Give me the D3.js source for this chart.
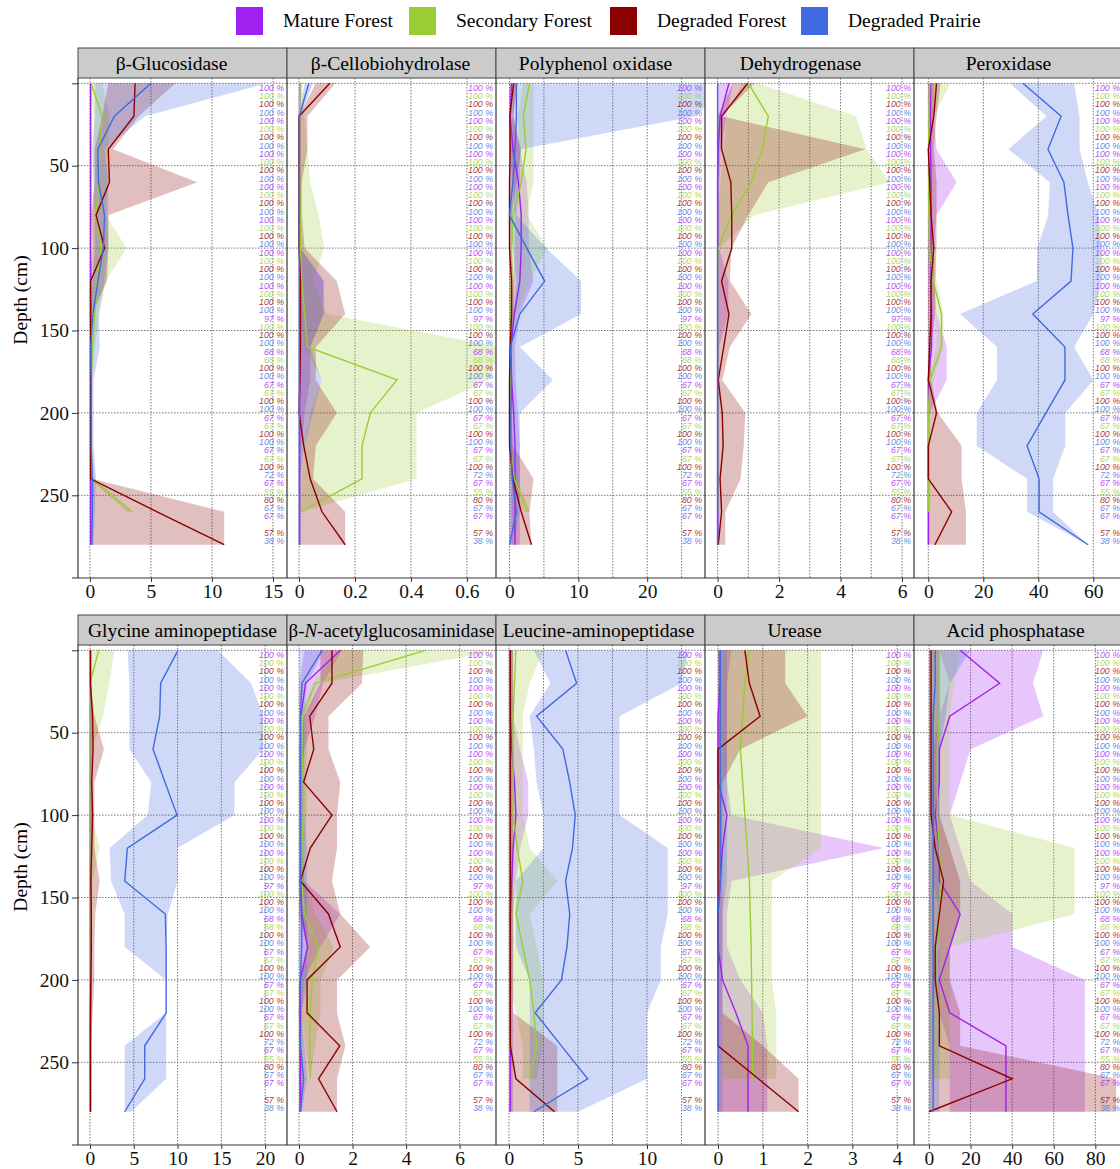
<!DOCTYPE html>
<html>
<head>
<meta charset="utf-8">
<script src="https://cdn.jsdelivr.net/npm/d3@7"></script>
<style>
  body { margin: 0; background: #fff; }
  text { font-family: "Liberation Serif", "Times New Roman", serif; }
  .pct { font-family: "Liberation Sans", Arial, sans-serif; font-style: italic; }
</style>
</head>
<body>
<script>
var svgWidth = 1120;
var svgHeight = 1169;

// DATA

var depths = [0, 20, 40, 60, 80, 100, 120, 140, 160, 180, 200, 220, 240, 260, 280];
var groups = ["Mature Forest", "Secondary Forest", "Degraded Forest", "Degraded Prairie"];
var groupColors = ["#a020f0", "#9acd32", "#8b0000", "#4169e1"];

var enzymes = ["β-Glucosidase", "β-Cellobiohydrolase", "Polyphenol oxidase", "Dehydrogenase", "Peroxidase",
  "Glycine aminopeptidase", "β-N-acetylglucosaminidase", "Leucine-aminopeptidase", "Urease", "Acid phosphatase"];

var xTickVals = [[0, 5, 10, 15], [0, 0.2, 0.4, 0.6], [0, 10, 20], [0, 2, 4, 6], [0, 20, 40, 60],
  [0, 5, 10, 15, 20], [0, 2, 4, 6], [0, 5, 10], [0, 1, 2, 3, 4], [0, 20, 40, 60, 80]];
var xGridVals = [[0, 5, 10, 15], [0, 0.2, 0.4, 0.6], [0, 5, 10, 15, 20, 25], [0, 1, 2, 3, 4, 5, 6], [0, 20, 40, 60],
  [0, 5, 10, 15, 20], [0, 2, 4, 6], [0, 2.5, 5, 7.5, 10, 12.5], [0, 1, 2, 3, 4], [0, 20, 40, 60, 80]];
var xDomains = [[-0.98, 16.15], [-0.043, 0.704], [-1.96, 28.4], [-0.41, 6.39], [-5.2, 70.8],
  [-1.37, 22.5], [-0.45, 7.36], [-0.94, 14.2], [-0.29, 4.375], [-7.2, 93.3]];

var yTickVals = [0, 50, 100, 150, 200, 250];

// share of samples, one label every 5 cm, cycling through the four groups
var pctValues = [100, 100, 100, 100, 100, 100, 100, 100, 100, 100,
  100, 100, 100, 100, 100, 100, 100, 100, 100, 100,
  100, 100, 100, 100, 100, 100, 100, 100, 97, 100,
  100, 100, 68, 68, 100, 100, 67, 67, 100, 100,
  67, 67, 100, 100, 67, 67, 100, 72, 67, 55,
  80, 67, 67, null, 57, 38];

// each array: [Mature, Secondary, Degraded Forest, Degraded Prairie] x depths
var gluMid = [
  [0.05, 0.05, 0.05, 0.05, 0.05, 0.05, 0.05, 0.05, 0.05, 0.05, 0.05, 0.05, 0.05, 0.05, 0.05],
  [0.1, 1.0, 0.8, 0.7, 0.5, 0.9, 0.6, 0.4, 0.2, 0.1, 0.05, 0.05, 0.1, 3.4, null],
  [3.7, 3.6, 1.5, 1.6, 0.5, 1.2, 0.05, 0.05, 0.05, 0.05, 0.05, 0.05, 0.05, 5.5, 11.0],
  [5.0, 2.0, 0.65, 0.7, 1.2, 1.1, 0.65, 0.25, 0.05, 0.1, 0.1, 0.1, 0.2, 0.2, 0.15]];
var gluLo = [
  [0, 0, 0, 0, 0, 0, 0, 0, 0, 0, 0, 0, 0, 0, 0],
  [0, 0.3, 0.3, 0.3, 0.2, 0.3, 0.2, 0.1, 0, 0, 0, 0, 0, 3.0, null],
  [1.5, 1.0, 0.4, 0.4, 0.1, 0.2, 0, 0, 0, 0, 0, 0, 0, 0, 0],
  [0.4, 0.4, 0.2, 0.3, 0.4, 0.4, 0.2, 0, 0, 0, 0, 0, 0, 0, 0]];
var gluHi = [
  [0.15, 0.15, 0.15, 0.15, 0.15, 0.15, 0.15, 0.15, 0.15, 0.15, 0.15, 0.15, 0.15, 0.15, 0.15],
  [1.0, 1.6, 1.5, 1.5, 1.3, 3.0, 1.3, 0.8, 0.4, 0.2, 0.2, 0.2, 0.4, 3.6, null],
  [7.0, 4.0, 1.9, 8.8, 1.5, 1.5, 1.4, 0.15, 0.15, 0.15, 0.15, 0.15, 0.15, 11, 11],
  [14.5, 4.5, 1.2, 1.5, 1.5, 1.5, 1.2, 0.7, 0.8, 0.3, 0.3, 0.3, 0.5, 0.4, 0.3]];

var cbhMid = [
  [0.002, 0.002, 0.002, 0.002, 0.002, 0.002, 0.002, 0.002, 0.002, 0.002, 0.002, 0.002, 0.002, 0.002, 0.002],
  [0.003, 0.002, 0.002, 0.003, 0.004, 0.005, 0.01, 0.02, 0.03, 0.35, 0.255, 0.225, 0.225, 0.005, null],
  [0.11, 0, 0, 0, 0, 0, 0.005, 0.005, 0.005, 0.003, 0, 0.017, 0.04, 0.082, 0.165],
  [0.035, 0.001, 0.001, 0.001, 0.001, 0.001, 0.001, 0.001, 0.001, 0.001, 0.001, 0.001, 0.001, 0.001, 0.001]];
var cbhLo = [
  [0, 0, 0, 0, 0, 0, 0, 0, 0, 0, 0, 0, 0, 0, 0],
  [0, 0, 0, 0, 0, 0, 0, 0, 0.02, 0.08, 0.04, 0.02, 0.01, 0, null],
  [0.06, 0, 0, 0, 0, 0, 0, 0, 0, 0, 0, 0, 0, 0, 0],
  [0.02, 0, 0, 0, 0, 0, 0, 0, 0, 0, 0, 0, 0, 0, 0]];
var cbhHi = [
  [0.01, 0.005, 0.005, 0.005, 0.005, 0.005, 0.088, 0.088, 0.04, 0.04, 0.02, 0.01, 0.005, 0.005, 0.005],
  [0.01, 0.02, 0.03, 0.04, 0.07, 0.09, 0.05, 0.1, 0.72, 0.68, 0.42, 0.42, 0.42, 0.01, null],
  [0.13, 0.03, 0.03, 0.01, 0.01, 0.02, 0.135, 0.165, 0.06, 0.06, 0.135, 0.06, 0.05, 0.165, 0.165],
  [0.05, 0.005, 0.005, 0.005, 0.005, 0.005, 0.088, 0.088, 0.04, 0.08, 0.05, 0.02, 0.005, 0.005, 0.005]];

var ppoMid = [
  [0.3, 0.1, 0.5, 1.3, 1.7, 1.7, 1.5, 0.7, 0.2, 0.3, 0.6, 0.8, 0.8, 0.8, 0.8],
  [2.9, 2.0, 2.4, 1.7, 0.5, 0.3, 0.3, 0.2, 0.1, 0.05, 0.05, 0.1, 0.7, 2.7, null],
  [0.6, 0.05, 0.1, 0, 0, 0, 0.3, 0.3, 0.1, 0, 0, 0, 0.5, 1.7, 3.2],
  [1.0, 1.0, 0.8, 0.5, 0.0, 2.5, 5.1, 1.5, 0.1, 0.3, 0.2, 0.2, 0.4, 1.0, 0.0]];
var ppoLo = [
  [0, 0, 0, 0.5, 0.8, 0.8, 0.5, 0.2, 0, 0, 0.2, 0.3, 0.3, 0.3, 0.3],
  [2.0, 1.2, 1.5, 0.8, 0.1, 0, 0, 0, 0, 0, 0, 0, 0, 2.0, null],
  [0, 0, 0, 0, 0, 0, 0, 0, 0, 0, 0, 0, 0, 0, 0],
  [0.5, 0.5, 0.2, 0, 0, 0.5, 1.0, 0.5, 0, 0, 0, 0, 0, 0, 0]];
var ppoHi = [
  [0.8, 0.6, 1.5, 2.5, 2.8, 2.8, 3.5, 1.5, 0.8, 0.9, 1.2, 1.5, 1.5, 1.5, 1.5],
  [3.5, 3.5, 3.5, 3.5, 2.5, 5.5, 3.0, 1.0, 0.5, 0.3, 0.3, 0.5, 1.0, 3.0, null],
  [1.2, 0.5, 1.7, 1.0, 0.3, 0.3, 0.6, 0.6, 0.3, 0.2, 0.2, 0.5, 3.5, 2.9, 3.2],
  [32, 27, 1.6, 1.5, 1.0, 5.3, 10.4, 10.4, 1.5, 6.3, 1.5, 1.5, 1.5, 1.5, 0.5]];

var dhMid = [
  [0.37, 0.08, 0.02, 0, 0, 0, 0, 0, 0, 0, 0, 0, 0, 0, 0],
  [1.0, 1.65, 1.45, 1.1, 0.45, 0.02, 0, 0, 0, 0, 0, 0, 0, 0, null],
  [0.98, 0.13, 0.13, 0.43, 0.46, 0.46, 0.13, 0.37, 0.2, 0.02, 0.15, 0.18, 0.08, 0.13, 0.02],
  [0, 0, 0, 0, 0, 0, 0, 0, 0, 0, 0, 0, 0, 0, 0]];
var dhLo = [
  [0, 0, 0, 0, 0, 0, 0, 0, 0, 0, 0, 0, 0, 0, 0],
  [0.8, 0.3, 0.2, 0.1, 0, 0, 0, 0, 0, 0, 0, 0, 0, 0, null],
  [0.5, 0, 0, 0, 0, 0, 0, 0, 0, 0, 0, 0, 0, 0, 0],
  [0, 0, 0, 0, 0, 0, 0, 0, 0, 0, 0, 0, 0, 0, 0]];
var dhHi = [
  [0.5, 0.3, 0.1, 0.05, 0.05, 0.05, 0.35, 0.35, 0.05, 0.05, 0.05, 0.05, 0.05, 0.05, 0.05],
  [1.3, 4.5, 4.85, 5.6, 1.2, 0.05, 0, 0, 0, 0, 0, 0, 0, 0, null],
  [1.2, 0.13, 4.8, 1.65, 1.0, 0.45, 0.4, 1.1, 0.4, 0.15, 0.9, 0.85, 0.75, 0.25, 0.25],
  [0, 0, 0, 0, 0, 0, 0, 0, 0, 0, 0, 0, 0, 0, 0]];

var perMid = [
  [0.8, 0.8, 0.8, 1, 1, 1, 1, 1.2, 1.2, 0, 0, 0, 0, 0, 0],
  [0.5, 0.2, 0.2, 0.2, 0.2, 0.5, 1.8, 4.8, 4.8, 0.6, 0, 0, 0, 0, null],
  [3.0, 2, 0, 0.5, 1, 2, 1, 1, 0.5, 0, 3.0, 0, 0, 8.5, 2.4],
  [34.4, 48.3, 43.5, 49.3, 50.8, 52.6, 51.9, 38, 49.7, 49.7, 42.8, 35.9, 40.3, 40.3, 58.1]];
var perLo = [
  [0, 0, 0, 0, 0, 0, 0, 0, 0, 0, 0, 0, 0, 0, 0],
  [0, 0, 0, 0, 0, 0, 0.5, 3, 3, 0, 0, 0, 0, 0, null],
  [0, 0, 0, 0, 0, 0, 0, 0, 0, 0, 0, 0, 0, 0, 0],
  [29.7, 43, 29.1, 44.2, 43.6, 39.7, 39.4, 11.5, 25, 25, 17.6, 17.6, 35.9, 35.9, 58]];
var perHi = [
  [2, 2, 3, 10.3, 3, 2, 2, 3, 6.7, 6.7, 0.5, 0.5, 0.5, 0.5, 0.5],
  [8, 2, 1, 1, 1, 2, 3, 5.5, 5.5, 2, 0.5, 0.5, 0.5, 0.5, null],
  [4.5, 3, 2, 3, 3, 3, 2.5, 2.5, 1, 1, 3.5, 12.1, 12.1, 13.7, 13.7],
  [53, 55, 55, 58, 62, 63, 63, 60, 53, 60, 49.8, 49.8, 45.4, 45.4, 58]];

var glyMid = [
  [0.05, 0.05, 0.05, 0.05, 0.05, 0.05, 0.05, 0.05, 0.05, 0.05, 0.05, 0.05, 0.05, 0.05, 0.05],
  [1.0, 0, 0, 0, 0, 0, 0, 0, 0, 0, 0, 0, 0, 0, null],
  [0.05, 0.05, 0.3, 0.35, 0.2, 0.3, 0.2, 0.1, 0.15, 0.15, 0.1, 0.05, 0.05, 0.05, 0.05],
  [10.05, 8.07, 7.96, 7.2, 8.57, 9.94, 4.27, 3.96, 8.6, 8.7, 8.7, 8.7, 6.25, 6.25, 3.96]];
var glyLo = [
  [0, 0, 0, 0, 0, 0, 0, 0, 0, 0, 0, 0, 0, 0, 0],
  [0, 0, 0, 0, 0, 0, 0, 0, 0, 0, 0, 0, 0, 0, null],
  [0, 0, 0, 0, 0, 0, 0, 0, 0, 0, 0, 0, 0, 0, 0],
  [4.3, 4.5, 4.5, 4.5, 7.0, 6.6, 2.25, 2.4, 3.96, 3.96, 8.7, 8.7, 3.96, 3.96, 3.96]];
var glyHi = [
  [0.2, 0.2, 0.2, 0.2, 0.2, 0.2, 0.2, 0.2, 0.2, 0.2, 0.2, 0.2, 0.2, 0.2, 0.2],
  [2.8, 2.2, 1.5, 0.2, 0.2, 0.2, 1.1, 0.3, 0.2, 0.2, 0.2, 0.2, 0.2, 0.2, null],
  [0.1, 0.1, 0.5, 1.6, 0.5, 0.5, 0.5, 1.1, 0.6, 0.5, 0.5, 0.3, 0.1, 0.1, 0.1],
  [14.6, 18.4, 19.8, 19.8, 16.5, 16.5, 10, 10, 8.9, 8.7, 8.7, 8.7, 8.7, 8.7, 4.7]];

var nagMid = [
  [1.54, 0.24, 0.07, 0.05, 0.05, 0.05, 0.05, 0.05, 0.1, 0.32, 0.05, 0.05, 0.05, 0.05, 0.05],
  [4.72, 0.61, 0.11, 0.1, 0.17, 0.17, 0.1, 0.1, 0.2, 0.73, 0.49, 0.42, 0.4, 0.42, null],
  [1.23, 1.23, 0.4, 0.55, 0.17, 1.23, 0.42, 0.05, 1.1, 1.54, 0.3, 0.3, 1.52, 0.73, 1.42],
  [0.86, 0.11, 0.05, 0.06, 0.06, 0.06, 0.06, 0.06, 0.1, 0.1, 0.05, 0.02, 0.05, 0.17, 0.05]];
var nagLo = [
  [0.2, 0, 0, 0, 0, 0, 0, 0, 0, 0, 0, 0, 0, 0, 0],
  [1.5, 0.5, 0.05, 0, 0, 0, 0, 0, 0, 0.3, 0.2, 0.1, 0.24, 0.42, null],
  [0.8, 0.8, 0.17, 0.1, 0.1, 0.1, 0.1, 0, 0, 0.3, 0, 0, 0, 0, 0],
  [0, 0, 0, 0, 0, 0, 0, 0, 0, 0, 0, 0, 0, 0, 0]];
var nagHi = [
  [1.6, 0.9, 0.6, 0.2, 0.1, 0.1, 0.1, 0.2, 1.54, 0.8, 0.2, 0.1, 0.1, 0.1, 0.1],
  [7.5, 0.8, 0.3, 0.3, 0.3, 0.3, 0.2, 0.2, 0.6, 1.3, 0.8, 0.8, 0.6, 0.42, null],
  [2.4, 2.35, 1.1, 1.1, 1.54, 1.42, 1.42, 1.23, 1.54, 2.66, 1.42, 1.42, 1.73, 1.42, 1.42],
  [0.92, 0.3, 0.2, 0.2, 0.2, 0.2, 0.3, 0.3, 0.3, 0.3, 0.3, 0.1, 0.2, 0.3, 0.1]];

var leuMid = [
  [0.1, 0.1, 0.1, 0.2, 0.4, 0.5, 0.3, 0.2, 0.1, 0.1, 0.1, 0.1, 0.1, 0.1, 0.1],
  [0.5, 0.4, 0.3, 0.3, 0.3, 0.3, 0.6, 1.0, 0.5, 1.0, 1.5, 1.8, 2.0, 1.5, null],
  [0.1, 0.1, 0.1, 0.1, 0.1, 0.1, 0.1, 0.1, 0.1, 0.1, 0.1, 0.1, 0.1, 0.5, 3.3],
  [4.1, 4.9, 2.0, 3.9, 4.4, 4.8, 4.6, 4.1, 4.4, 4.2, 3.8, 1.9, 3.8, 5.7, 1.8]];
var leuLo = [
  [0, 0, 0, 0, 0, 0, 0, 0, 0, 0, 0, 0, 0, 0, 0],
  [0, 0, 0, 0, 0, 0, 0, 0, 0, 0, 0, 0.5, 1.0, 1.0, null],
  [0, 0, 0, 0, 0, 0, 0, 0, 0, 0, 0, 0, 0, 0, 0],
  [1.8, 3.0, 1.5, 1.8, 2.0, 2.5, 2.5, 0.5, 0.5, 0.5, 1.5, 1.5, 1.5, 1.5, 1.5]];
var leuHi = [
  [0.3, 0.3, 0.3, 0.8, 1.4, 1.4, 0.8, 0.5, 0.3, 0.3, 0.3, 0.3, 0.3, 0.3, 0.3],
  [2.5, 1.5, 1.0, 1.0, 1.0, 1.0, 1.5, 3.5, 1.5, 2.0, 2.5, 2.5, 2.5, 2.0, null],
  [0.3, 0.3, 0.3, 0.3, 0.3, 0.3, 0.3, 0.3, 0.3, 0.3, 0.3, 0.3, 3.5, 3.5, 3.5],
  [13, 12.5, 8, 8, 8, 8, 11.5, 11.5, 11.5, 11, 11, 10, 10, 10, 5]];

var ureMid = [
  [0.05, 0.05, 0, 0, 0, 0.2, 0.1, 0.05, 0, 0, 0.1, 0.4, 0.67, 0.67, 0.67],
  [0.7, 0.6, 0.55, 0.5, 0.55, 0.6, 0.65, 0.7, 0.72, 0.74, 0.75, 0.76, 0.77, 0.77, null],
  [0.6, 0.7, 0.94, 0, 0, 0, 0, 0, 0, 0, 0, 0, 0, 0.9, 1.8],
  [0.05, 0.05, 0.05, 0.05, 0.05, 0.05, 0.05, 0.05, 0, 0, 0, 0, 0, 0, 0]];
var ureLo = [
  [0, 0, 0, 0, 0, 0, 0, 0, 0, 0, 0, 0, 0, 0, 0],
  [0, 0, 0, 0, 0, 0, 0, 0.1, 0.1, 0.1, 0.1, 0.1, 0.1, 0.1, null],
  [0, 0, 0, 0, 0, 0, 0, 0, 0, 0, 0, 0, 0, 0, 0],
  [0, 0, 0, 0, 0, 0, 0, 0, 0, 0, 0, 0, 0, 0, 0]];
var ureHi = [
  [0.3, 0.2, 0.2, 0.2, 0.2, 0.3, 3.7, 0.3, 0.2, 0.2, 0.5, 1.0, 1.1, 1.1, 1.1],
  [2.3, 2.3, 2.3, 2.3, 2.3, 2.3, 2.3, 1.2, 1.2, 1.2, 1.2, 1.3, 1.3, 1.3, null],
  [1.5, 1.5, 2.0, 0.5, 0.1, 0.1, 0.1, 0.1, 0.1, 0.1, 0.1, 0.1, 1.0, 1.8, 1.8],
  [0.2, 0.2, 0.2, 0.2, 0.2, 0.2, 0.2, 0.2, 0.1, 0.1, 0.1, 0.1, 0.1, 0.1, 0.1]];

var acpMid = [
  [15, 34, 10, 5, 5, 3, 5, 5, 15, 10, 5, 10, 37, 37, 37],
  [5, 5, 5, 4, 4, 4, 5, 6, 5, 4, 4, 4, 4, 4, null],
  [1, 1, 1, 1, 1, 1, 3, 7, 5, 3, 3, 5, 5, 40, 0],
  [3, 3, 2, 2, 2, 2, 2, 2, 2, 2, 2, 2, 2, 2, 2]];
var acpLo = [
  [5, 10, 5, 2, 2, 1, 2, 2, 5, 5, 2, 5, 10, 10, 10],
  [0, 0, 0, 0, 0, 0, 0, 0, 0, 0, 0, 0, 0, 0, null],
  [0, 0, 0, 0, 0, 0, 0, 0, 0, 0, 0, 0, 0, 0, 0],
  [0, 0, 0, 0, 0, 0, 0, 0, 0, 0, 0, 0, 0, 0, 0]];
var acpHi = [
  [55, 50, 55, 20, 15, 10, 15, 20, 40, 40, 75, 75, 75, 75, 75],
  [15, 12, 10, 10, 10, 10, 70, 70, 70, 10, 10, 10, 10, 10, null],
  [5, 5, 5, 5, 5, 5, 10, 15, 15, 10, 10, 15, 15, 90, 90],
  [20, 10, 8, 5, 5, 5, 5, 5, 5, 5, 5, 5, 5, 5, 5]];

var panelMid = [gluMid, cbhMid, ppoMid, dhMid, perMid, glyMid, nagMid, leuMid, ureMid, acpMid];
var panelLo = [gluLo, cbhLo, ppoLo, dhLo, perLo, glyLo, nagLo, leuLo, ureLo, acpLo];
var panelHi = [gluHi, cbhHi, ppoHi, dhHi, perHi, glyHi, nagHi, leuHi, ureHi, acpHi];

// LAYOUT

var panelW = 209;
var plotH = 500;
var stripH = 30;
var colX = [78, 287, 496, 705, 914];
var rowTop = [78, 645];
var titleShift = [-11, -1, -5, -9, -10, 0, 0, -2, -15, -3];
var fontSize = 19.5;

var svg = d3.select("body").append("svg")
  .attr("width", svgWidth)
  .attr("height", svgHeight);

// LEGEND

var legendX = [236, 409, 610, 801];
var legend = svg.append("g");
groups.forEach(function(g, i) {
  legend.append("rect")
    .attr("x", legendX[i]).attr("y", 7)
    .attr("width", 27).attr("height", 28)
    .attr("fill", groupColors[i]);
  legend.append("text")
    .attr("x", legendX[i] + 47).attr("y", 27)
    .attr("font-size", fontSize)
    .text(g);
});

var yScale = d3.scaleLinear().domain([0, 300]).range([5.3, 499.7]);

enzymes.forEach(function(name, p) {
  var row = Math.floor(p / 5);
  var col = p % 5;
  var left = colX[col];
  var top = rowTop[row];

  var xScale = d3.scaleLinear().domain(xDomains[p]).range([0, panelW]);

  var g = svg.append("g").attr("transform", `translate(${left}, ${top})`);

  // strip
  svg.append("rect")
    .attr("x", left).attr("y", top - stripH)
    .attr("width", panelW).attr("height", stripH)
    .attr("fill", "#cbcbcb").attr("stroke", "#444").attr("stroke-width", 1);
  var title = svg.append("text")
    .attr("x", left + panelW / 2 + titleShift[p]).attr("y", top - stripH / 2 + 6.5)
    .attr("text-anchor", "middle")
    .attr("font-size", fontSize);
  if (name.indexOf("-N-") > 0) {
    title.attr("font-size", 18.9);
    title.append("tspan").text("β-");
    title.append("tspan").attr("font-style", "italic").text("N");
    title.append("tspan").text("-acetylglucosaminidase");
  } else {
    title.text(name);
  }

  var clipId = "clip" + p;
  g.append("clipPath").attr("id", clipId)
    .append("rect").attr("width", panelW).attr("height", plotH);

  // grid
  g.selectAll(".vgrid").data(xGridVals[p]).enter().append("line")
    .attr("x1", d => xScale(d)).attr("x2", d => xScale(d))
    .attr("y1", 0).attr("y2", plotH)
    .attr("stroke", "#777").attr("stroke-width", 1).attr("stroke-dasharray", "1.5,1.5");
  g.selectAll(".hgrid").data(yTickVals).enter().append("line")
    .attr("x1", 0).attr("x2", panelW)
    .attr("y1", d => yScale(d)).attr("y2", d => yScale(d))
    .attr("stroke", "#777").attr("stroke-width", 1).attr("stroke-dasharray", "1.5,1.5");

  var plot = g.append("g").attr("clip-path", `url(#${clipId})`);

  // ribbons
  groups.forEach(function(gr, s) {
    var pts = depths.map(function(d, i) {
      return { d: d, lo: panelLo[p][s][i], hi: panelHi[p][s][i] };
    }).filter(v => v.lo !== null && v.hi !== null);
    var area = d3.area()
      .y(v => yScale(v.d))
      .x0(v => xScale(v.lo))
      .x1(v => xScale(v.hi));
    plot.append("path").datum(pts)
      .attr("d", area)
      .attr("fill", groupColors[s]).attr("fill-opacity", 0.25);
  });

  // lines
  groups.forEach(function(gr, s) {
    var pts = depths.map(function(d, i) {
      return { d: d, v: panelMid[p][s][i] };
    }).filter(v => v.v !== null);
    var line = d3.line()
      .y(v => yScale(v.d))
      .x(v => xScale(v.v));
    plot.append("path").datum(pts)
      .attr("d", line)
      .attr("fill", "none")
      .attr("stroke", groupColors[s]).attr("stroke-width", 1.4);
  });

  // percentage labels
  g.selectAll(".pct").data(pctValues.map((v, i) => ({ v: v, i: i })).filter(d => d.v !== null))
    .enter().append("text")
    .attr("class", "pct")
    .attr("x", panelW - 3)
    .attr("y", d => yScale(d.i * 5 + 2.8) + 3)
    .attr("text-anchor", "end")
    .attr("font-size", 8.8)
    .attr("fill", d => groupColors[d.i % 4])
    .attr("fill-opacity", 0.8)
    .text(d => d.v + " %");

  // frame lines
  g.append("line").attr("x1", 0).attr("x2", 0).attr("y1", 0).attr("y2", plotH)
    .attr("stroke", "#333").attr("stroke-width", 1.2);
  g.append("line").attr("x1", col === 0 ? -6 : 0).attr("x2", panelW).attr("y1", plotH).attr("y2", plotH)
    .attr("stroke", "#333").attr("stroke-width", 1.2);

  // x axis
  var bottomAxis = d3.axisBottom(xScale).tickValues(xTickVals[p]).tickSize(4).tickSizeOuter(0)
    .tickFormat(d3.format("~g"));
  var ax = g.append("g").attr("transform", `translate(0, ${plotH})`).call(bottomAxis);
  ax.select(".domain").remove();
  ax.selectAll("line").attr("stroke", "#333");
  ax.selectAll("text").attr("font-size", fontSize).attr("fill", "#111")
    .attr("font-family", "Liberation Serif, serif").attr("y", 6);

  // y axis on first column
  if (col === 0) {
    var leftAxis = d3.axisLeft(yScale).tickValues(yTickVals).tickSize(6).tickSizeOuter(0)
      .tickFormat(d => d === 0 ? "" : d);
    var ay = g.append("g").call(leftAxis);
    ay.select(".domain").remove();
    ay.selectAll("line").attr("stroke", "#333");
    ay.selectAll("text").attr("font-size", fontSize).attr("fill", "#111")
      .attr("font-family", "Liberation Serif, serif");
    svg.append("text")
      .attr("transform", `translate(27, ${top + 222}) rotate(-90)`)
      .attr("text-anchor", "middle")
      .attr("font-size", fontSize)
      .text("Depth (cm)");
  }
});
</script>
</body>
</html>
